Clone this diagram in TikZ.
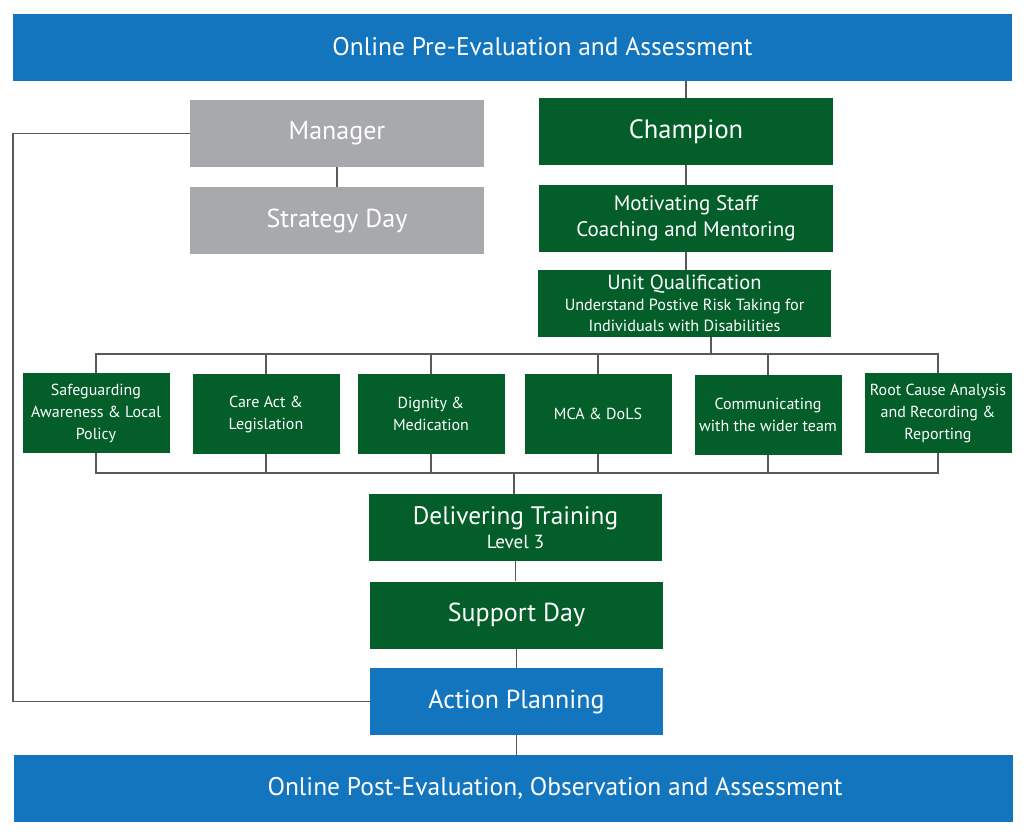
\documentclass[tikz,border=0pt]{standalone}
\usepackage{fontspec}
\setmainfont{PT Sans}
\definecolor{bblue}{HTML}{1275BD}
\definecolor{bgreen}{HTML}{045E2A}
\definecolor{bgray}{HTML}{A7A9AC}
\definecolor{lgray}{HTML}{58595B}
\begin{document}
\begin{tikzpicture}[x=1pt,y=-1pt,
  box/.style={rectangle, inner sep=0pt, text=white, align=center, font=\fontsize{26}{30}\selectfont},
  bluebar/.style={box, fill=bblue, minimum width=999pt, minimum height=67pt, font=\fontsize{25.5}{30}\selectfont},
  graybox/.style={box, fill=bgray, minimum width=294pt, minimum height=67pt},
  greenbox/.style={box, fill=bgreen, minimum width=294pt, minimum height=67pt},
  bluebox/.style={box, fill=bblue, minimum width=293pt, minimum height=67pt},
  smallbox/.style={box, fill=bgreen, minimum width=147pt, minimum height=80pt, font=\fontsize{16}{22}\selectfont},
  conn/.style={draw=lgray, line width=1.8pt}]
\useasboundingbox (0,0) rectangle (1024,839);
\fill[white] (0,0) rectangle (1024,839);
% bars
\node[bluebar] (top) at (512.5,47) {\hspace*{60pt}Online Pre-Evaluation and Assessment};
\node[bluebar] (bot) at (513,788.5) {\hspace*{84pt}Online Post-Evaluation, Observation and Assessment};
% manager side
\node[graybox] (mgr) at (337,133.5) {Manager};
\node[graybox] (strat) at (337,220.5) {Strategy Day};
% champion side
\node[greenbox, font=\fontsize{26.5}{30}\selectfont] (champ) at (686,131.5) {Champion};
\node[greenbox, font=\fontsize{21}{26}\selectfont] (motiv) at (686,218.5) {Motivating Staff\\Coaching and Mentoring};
\node[greenbox, minimum width=293pt, font=\fontsize{16.2}{21}\selectfont] (unit) at (684.5,303.5) {{\fontsize{20.5}{21}\selectfont Unit Qualification}\\Understand Postive Risk Taking for\\Individuals with Disabilities};
% small boxes
\node[smallbox] (s1) at (96,413) {Safeguarding\\Awareness \& Local\\Policy};
\node[smallbox] (s2) at (266,414) {Care Act \&\\Legislation};
\node[smallbox] (s3) at (431,414) {Dignity \&\\Medication};
\node[smallbox] (s4) at (598,414) {MCA \& DoLS};
\node[smallbox] (s5) at (768,415) {Communicating\\with the wider team};
\node[smallbox] (s6) at (938,413) {Root Cause Analysis\\and Recording \&\\Reporting};
% lower chain
\node[greenbox, minimum width=293pt, font=\fontsize{19}{24}\selectfont] (deliv) at (515.5,527.5) {{\fontsize{25.3}{24}\selectfont Delivering Training}\\Level 3};
\node[greenbox, minimum width=293pt] (supp) at (516.5,615) {Support Day};
\node[bluebox] (act) at (516.5,701.5) {Action Planning};
% coordinates
\coordinate (busT) at (711,354);
\coordinate (busB) at (514,473);
\coordinate (loopA) at (13,133.5);
\coordinate (loopB) at (13,701.5);
% connectors
\draw[conn] (top.south -| champ) -- (champ.north);
\draw[conn] (champ) -- (motiv);
\draw[conn] (motiv) -- (unit.north -| motiv);
\draw[conn] (mgr) -- (strat);
\draw[conn] (unit.south -| busT) -- (busT);
\draw[conn] (s1.north) -- (s1.north |- busT) -- (s6.north |- busT) -- (s6.north);
\foreach \n in {s2,s3,s4,s5} \draw[conn] (\n.north) -- (\n.north |- busT);
\draw[conn] (s1.south) -- (s1.south |- busB) -- (s6.south |- busB) -- (s6.south);
\foreach \n in {s2,s3,s4,s5} \draw[conn] (\n.south) -- (\n.south |- busB);
\draw[conn] (busB) -- (deliv.north -| busB);
\draw[conn] (deliv) -- (supp.north -| deliv);
\draw[conn] (supp) -- (act);
\draw[conn] (act) -- (bot.north -| act);
\draw[conn] (mgr.west) -- (loopA) -- (loopB) -- (act.west);
\end{tikzpicture}
\end{document}
